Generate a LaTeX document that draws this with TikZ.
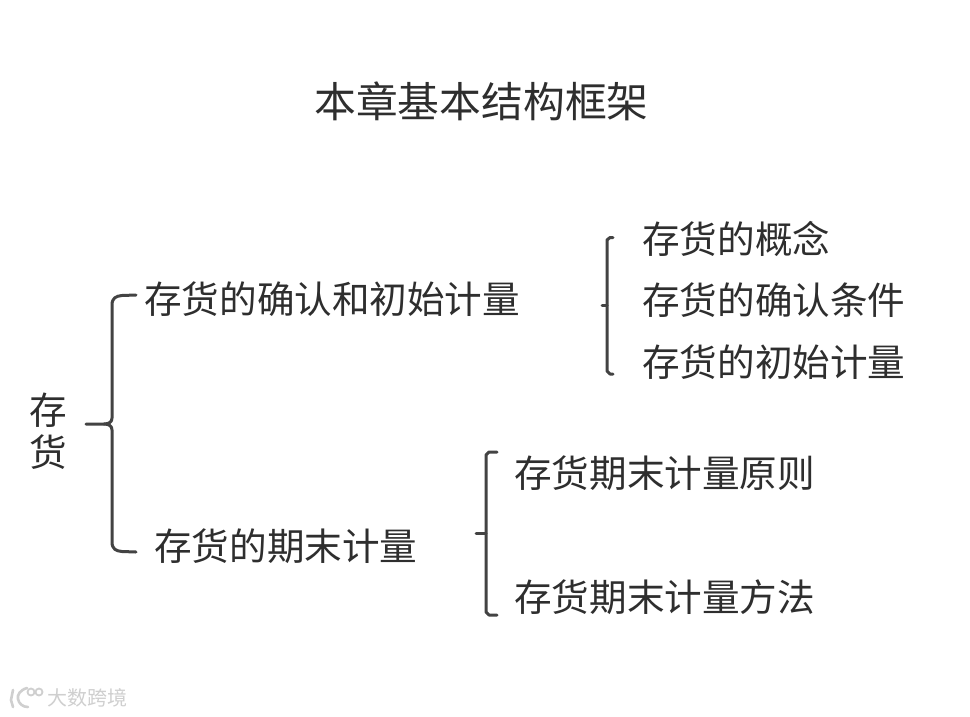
\documentclass[tikz,border=0pt]{standalone}
\usepackage{fontspec}
\setmainfont{Noto Sans CJK SC}
\definecolor{ink}{HTML}{2E2E2E}
\definecolor{wm}{HTML}{CFCFCF}
\tikzset{
  x=1pt,y=-1pt,
  lab/.style={anchor=west,inner sep=0pt,text=ink,font=\fontsize{37.6}{42}\selectfont},
  ttl/.style={inner sep=0pt,text=ink,font=\fontsize{41.8}{46}\selectfont},
  brace/.style={draw=ink!90,line width=3pt,line cap=round,line join=round},
  wmtext/.style={anchor=west,inner sep=0pt,text=wm,font=\fontsize{20}{22}\selectfont},
  wmline/.style={draw=wm,line width=2.6pt,line cap=round}
}
\begin{document}
\begin{tikzpicture}
\useasboundingbox (0,0) rectangle (970,716);
\fill[white] (0,0) rectangle (970,716);
\node[ttl] (title) at (481.5,101) {本章基本结构框架};
\node[inner sep=0pt,text=ink,align=center,font=\fontsize{37.6}{42}\selectfont] (root) at (48.5,431) {存\\货};
\node[lab] (a) at (144,299) {存货的确认和初始计量};
\node[lab] (b) at (154,546) {存货的期末计量};
\node[lab] (a1) at (642,239) {存货的概念};
\node[lab] (a2) at (642,300) {存货的确认条件};
\node[lab] (a3) at (642,362) {存货的初始计量};
\node[lab] (b1) at (514,473) {存货期末计量原则};
\node[lab] (b2) at (514,597) {存货期末计量方法};
% main bracket
\coordinate (rootS) at (86,424);
\coordinate (aE) at (136,295);
\coordinate (bE) at (136,552);
\draw[brace] (rootS) -- (104,424) .. controls (109,424) and (112,422) .. (112,418)
  -- (112,305) .. controls (112,298) and (116,296) .. (122,295.5) -- (aE);
\draw[brace] (104,424) .. controls (109,424) and (112,426) .. (112,430)
  -- (112,542) .. controls (112,549) and (116,551) .. (122,551.5) -- (bE);
% upper right bracket
\coordinate (aS) at (602,305);
\coordinate (a1E) at (613,237.5);
\coordinate (a3E) at (613,374);
\draw[brace] (a1E) -- (610,237.5) -- (607,240) -- (607,371) -- (610,374) -- (a3E);
\draw[brace] (aS) -- (607,305);
% lower bracket
\coordinate (bS) at (476,533);
\coordinate (b1E) at (497,452);
\coordinate (b2E) at (497,615);
\draw[brace] (b1E) -- (489,452) -- (486,455) -- (486,612) -- (489,615) -- (b2E);
\draw[brace] (bS) -- (486,533);
% watermark
\node[wmtext] (wmt) at (47,698) {大数跨境};
\draw[wmline] (13,690) -- (11,700) -- (13,707);
\draw[wmline] (27,688) .. controls (20,690) and (17,695) .. (18,699) .. controls (19,704) and (23,707) .. (28,707);
\draw[wm,line width=1.8pt] (31,692) circle (3.5) (39,692) circle (3.5);
\end{tikzpicture}
\end{document}
